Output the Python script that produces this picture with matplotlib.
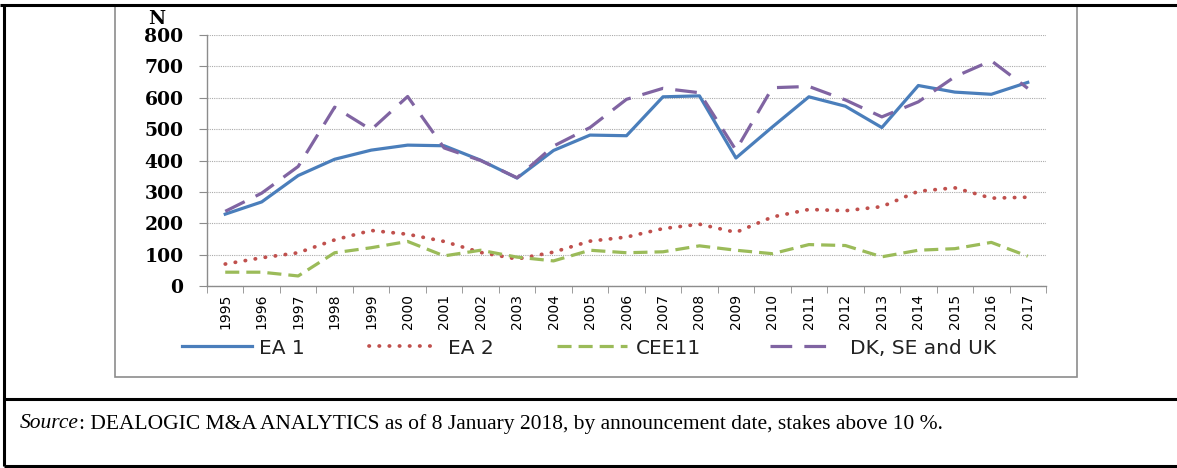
import matplotlib
matplotlib.use('Agg')
import matplotlib.pyplot as plt
from matplotlib.lines import Line2D
from matplotlib.patches import Rectangle
import numpy as np

years = [str(y) for y in range(1995, 2018)]
ea1 = [229, 268, 352, 404, 433, 449, 447, 401, 344, 432, 481, 479, 603, 606, 408, 507, 603, 573, 505, 639, 618, 611, 649]
ea2 = [70, 90, 106, 147, 177, 165, 142, 107, 86, 108, 143, 156, 183, 197, 171, 220, 244, 240, 253, 302, 313, 280, 283]
cee11 = [44, 44, 32, 106, 122, 142, 96, 114, 92, 80, 114, 106, 109, 128, 114, 103, 132, 129, 93, 114, 119, 139, 95]
dk_se_uk = [238, 296, 381, 570, 498, 604, 440, 400, 345, 446, 505, 595, 630, 616, 433, 632, 636, 593, 539, 587, 667, 718, 630]
y_ticks = [0, 100, 200, 300, 400, 500, 600, 700, 800]
series_names = ['EA 1', 'EA 2', 'CEE11', 'DK, SE and UK']
source_label = "Source"
source_text = "DEALOGIC M&A ANALYTICS as of 8 January 2018, by announcement date, stakes above 10 %."

W, H = 1177, 468
fig = plt.figure(figsize=(W / 100, H / 100), dpi=100)


def fx(x):
    return x / W


def fy(y):
    return 1 - y / H


def fline(x0, y0, x1, y1, color='black', lw=2.0):
    fig.add_artist(Line2D([fx(x0), fx(x1)], [fy(y0), fy(y1)], transform=fig.transFigure,
                          color=color, lw=lw, solid_capstyle='butt'))


# outer frame
fline(0, 5, W, 5, lw=2.2)
fline(4, 5, 4, 466, lw=2.2)
fline(4, 399, W, 399, lw=2.2)
fline(4, 466, W, 466, lw=2.2)
# chart box
fig.add_artist(Rectangle((fx(115), fy(377)), fx(1077) - fx(115), fy(6) - fy(377),
                         transform=fig.transFigure, fill=False, edgecolor='#8c8c8c', lw=1.2))

ax = fig.add_axes([fx(207), fy(286), fx(1046) - fx(207), fy(35) - fy(286)])
x = np.arange(len(years))
styles = [
    dict(color='#4A7EBB', lw=2.3, linestyle='-'),
    dict(color='#C0504D', lw=2.7, linestyle=(0, (0.1, 2.6)), dash_capstyle='round'),
    dict(color='#9BBB59', lw=2.3, linestyle=(0, (4.4, 2.2))),
    dict(color='#8064A2', lw=2.3, linestyle=(0, (6.8, 3.8))),
]
handles = []
for vals, name, st in zip([ea1, ea2, cee11, dk_se_uk], series_names, styles):
    h, = ax.plot(x, vals, label=name, solid_joinstyle='round', **st)
    handles.append(h)

ax.set_xlim(-0.5, len(years) - 0.5)
ax.set_ylim(0, 800)
ax.set_xticks(x)
ax.set_xticklabels(years, rotation=90, fontsize=10, family='DejaVu Sans')
ax.set_xticks(np.arange(-0.5, len(years), 1), minor=True)
ax.tick_params(axis='x', which='major', length=0, pad=5.5)
ax.tick_params(axis='x', which='minor', length=5, color='#8c8c8c', direction='out')
ax.set_yticks(y_ticks)
ax.set_yticklabels([str(v) for v in y_ticks], fontsize=13.5, family='DejaVu Serif', fontweight='bold')
ax.tick_params(axis='y', length=6, color='#8c8c8c', pad=11)
for s in ['top', 'right']:
    ax.spines[s].set_visible(False)
for s in ['left', 'bottom']:
    ax.spines[s].set_color('#8c8c8c')
    ax.spines[s].set_linewidth(1.0)
ax.yaxis.grid(True, linestyle=(0, (1, 1)), color='#aaaaaa', lw=0.8)
ax.set_axisbelow(True)

fig.text(fx(157), fy(19), 'N', fontsize=13.5, family='DejaVu Serif', fontweight='bold',
         ha='center', va='center')

# legend entries, placed one by one
leg_fs = 14.5
leg_x = [182, 369, 557, 770]
handle_px = [70, 69, 70, 56]
text_gap_px = [7, 10, 9, 24]
for h, lx, hp, gp in zip(handles, leg_x, handle_px, text_gap_px):
    lg = fig.legend(handles=[h], loc='center left', bbox_to_anchor=(fx(lx), fy(348)),
                    bbox_transform=fig.transFigure, frameon=False, borderpad=0, borderaxespad=0,
                    handlelength=hp * 0.72 / leg_fs, handletextpad=gp * 0.72 / leg_fs,
                    prop={'family': 'DejaVu Sans', 'size': leg_fs})
    for t in lg.get_texts():
        t.set_color('#222222')

# source note
t0 = fig.text(fx(20), fy(424), source_label, fontsize=15.5, family='Liberation Serif', style='italic',
              ha='left', va='center')
fig.canvas.draw()
bb = t0.get_window_extent()
fig.text(bb.x1 / W, fy(424), ': ' + source_text, fontsize=15.5, family='Liberation Serif',
         ha='left', va='center')

fig.savefig('out.png', dpi=100)
